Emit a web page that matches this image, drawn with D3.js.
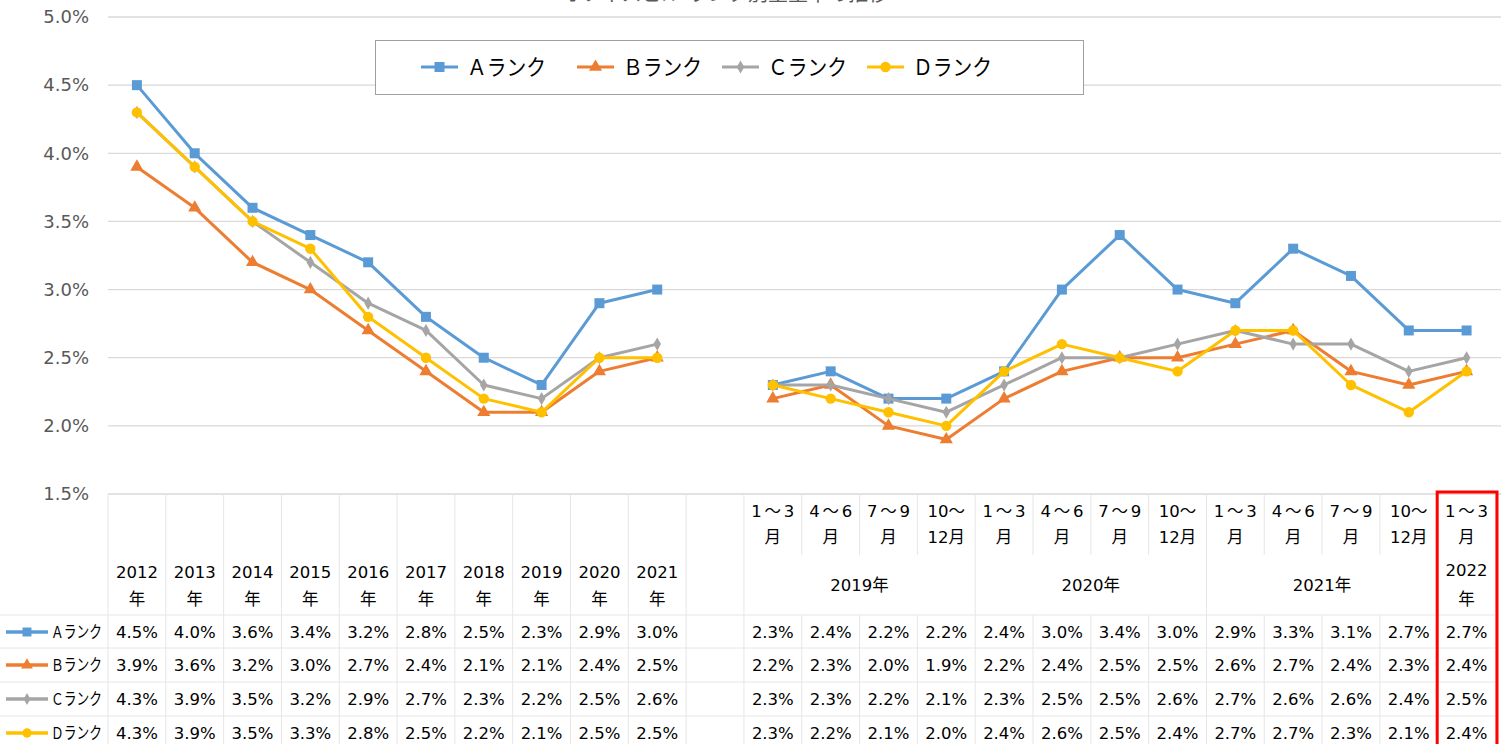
<!DOCTYPE html>
<html>
<head>
<meta charset="utf-8">
<script src="https://cdn.jsdelivr.net/npm/d3@7"></script>
<style>
  body { margin: 0; background: #fff; }
  svg { display: block; font-family: "DejaVu Sans", "Noto Sans CJK JP", sans-serif; }
</style>
</head>
<body>
<svg id="chart" width="1501" height="744"></svg>
<script>
// categories: 10 years, one empty slot, 13 quarters
var yearCats = ["2012", "2013", "2014", "2015", "2016", "2017", "2018", "2019", "2020", "2021"];
var quarterCats = ["1～3|月", "4～6|月", "7～9|月", "10～|12月",
                   "1～3|月", "4～6|月", "7～9|月", "10～|12月",
                   "1～3|月", "4～6|月", "7～9|月", "10～|12月",
                   "1～3|月"];
var quarterGroups = [["2019年", 4], ["2020年", 4], ["2021年", 4], ["2022|年", 1]];
var seriesNames = ["Ａランク", "Ｂランク", "Ｃランク", "Ｄランク"];
var colors = ["#5B9BD5", "#ED7D31", "#A5A5A5", "#FFC000"];
var yTicks = [1.5, 2.0, 2.5, 3.0, 3.5, 4.0, 4.5, 5.0];

// yearly values (%)
var aYear = [4.5, 4.0, 3.6, 3.4, 3.2, 2.8, 2.5, 2.3, 2.9, 3.0];
var bYear = [3.9, 3.6, 3.2, 3.0, 2.7, 2.4, 2.1, 2.1, 2.4, 2.5];
var cYear = [4.3, 3.9, 3.5, 3.2, 2.9, 2.7, 2.3, 2.2, 2.5, 2.6];
var dYear = [4.3, 3.9, 3.5, 3.3, 2.8, 2.5, 2.2, 2.1, 2.5, 2.5];
// quarterly values (%)
var aQuarter = [2.3, 2.4, 2.2, 2.2, 2.4, 3.0, 3.4, 3.0, 2.9, 3.3, 3.1, 2.7, 2.7];
var bQuarter = [2.2, 2.3, 2.0, 1.9, 2.2, 2.4, 2.5, 2.5, 2.6, 2.7, 2.4, 2.3, 2.4];
var cQuarter = [2.3, 2.3, 2.2, 2.1, 2.3, 2.5, 2.5, 2.6, 2.7, 2.6, 2.6, 2.4, 2.5];
var dQuarter = [2.3, 2.2, 2.1, 2.0, 2.4, 2.6, 2.5, 2.4, 2.7, 2.7, 2.3, 2.1, 2.4];

var yearSeries = [aYear, bYear, cYear, dYear];
var quarterSeries = [aQuarter, bQuarter, cQuarter, dQuarter];

var svg = d3.select("#chart");

// slot keys
var keys = yearCats.map(function(d, i) { return "y" + i; })
    .concat(["gap"])
    .concat(quarterCats.map(function(d, i) { return "q" + i; }));

var x = d3.scaleBand().domain(keys).range([108, 1495.5]).padding(0);
var y = d3.scaleLinear().domain([1.5, 5.0]).range([494, 17]);
var bw = x.bandwidth();

// title (cropped by the top edge, as in the source)
svg.append("text")
    .attr("x", 725).attr("y", 1)
    .attr("text-anchor", "middle")
    .style("font-size", "20px")
    .style("fill", "#595959")
    .text("オフィスビル ランク別空室率の推移");

// gridlines
svg.append("g").selectAll("line")
    .data(yTicks)
    .enter().append("line")
    .attr("x1", 108).attr("x2", 1501)
    .attr("y1", function(d) { return y(d); })
    .attr("y2", function(d) { return y(d); })
    .attr("stroke", "#d9d9d9")
    .attr("stroke-width", 1.3);

// y axis labels
var yAxis = d3.axisLeft(y).tickValues(yTicks).tickSize(0).tickPadding(0)
    .tickFormat(function(d) { return d.toFixed(1) + "%"; });
svg.append("g")
    .attr("transform", "translate(89,0)")
    .call(yAxis)
    .call(function(g) { g.select(".domain").remove(); })
    .selectAll("text")
    .style("font-size", "18px")
    .style("fill", "#595959")
    .style("font-family", "'DejaVu Sans', sans-serif");

// table grid
var grid = svg.append("g").attr("stroke", "#e6e6e6").attr("stroke-width", 1);
var rowLines = [615, 648, 682, 716];
rowLines.forEach(function(yy) {
    grid.append("line").attr("x1", 0).attr("x2", 1495.5).attr("y1", yy).attr("y2", yy);
});
// vertical lines: year columns + gap full height
keys.slice(0, 12).forEach(function(k) {
    grid.append("line").attr("x1", x(k)).attr("x2", x(k)).attr("y1", 494).attr("y2", 744);
});
// quarter columns: first header row and data rows only
keys.slice(12).forEach(function(k) {
    grid.append("line").attr("x1", x(k)).attr("x2", x(k)).attr("y1", 494).attr("y2", 555);
    grid.append("line").attr("x1", x(k)).attr("x2", x(k)).attr("y1", 615).attr("y2", 744);
});
// group boundaries across second header row
var gStart = 0;
quarterGroups.forEach(function(g) {
    var k = "q" + (gStart + g[1]);
    var xx = gStart + g[1] < quarterCats.length ? x(k) : 1495.5;
    grid.append("line").attr("x1", xx).attr("x2", xx).attr("y1", 555).attr("y2", 615);
    gStart += g[1];
});
grid.append("line").attr("x1", 1495.5).attr("x2", 1495.5).attr("y1", 494).attr("y2", 744);

var txt = svg.append("g").style("fill", "#000").style("font-size", "16.5px").attr("text-anchor", "middle");

// year headers
yearCats.forEach(function(d, i) {
    var cx = x("y" + i) + bw / 2;
    txt.append("text").attr("x", cx).attr("y", 578).text(d);
    txt.append("text").attr("x", cx).attr("y", 605).text("年");
});
// quarter headers
quarterCats.forEach(function(d, i) {
    var cx = x("q" + i) + bw / 2;
    var p = d.split("|");
    var t1 = txt.append("text").attr("x", cx).attr("y", 517).text(p[0]);
    if (p[0].length === 3 && p[0].indexOf("10") !== 0) {
        t1.attr("textLength", 43).attr("lengthAdjust", "spacing");
    }
    txt.append("text").attr("x", cx).attr("y", 543).text(p[1]);
});
// group headers
gStart = 0;
quarterGroups.forEach(function(g) {
    var x0 = x("q" + gStart);
    var cx = x0 + bw * g[1] / 2;
    var p = g[0].split("|");
    if (p.length === 1) {
        txt.append("text").attr("x", cx).attr("y", 591).text(p[0]);
    } else {
        txt.append("text").attr("x", cx).attr("y", 576).text(p[0]);
        txt.append("text").attr("x", cx).attr("y", 605).text(p[1]);
    }
    gStart += g[1];
});

// marker drawing
var symbols = [d3.symbolSquare, d3.symbolTriangle, d3.symbolDiamond, d3.symbolCircle];
var symSizes = [100, 75, 50, 85];
function marker(sel, i, scale) {
    sel.append("path")
        .attr("d", d3.symbol().type(symbols[i]).size(symSizes[i] * (scale || 1)))
        .attr("fill", colors[i]);
}

// data rows
var rowMid = [632, 665, 699, 733];
seriesNames.forEach(function(name, i) {
    var ym = rowMid[i];
    var leg = svg.append("g");
    leg.append("line").attr("x1", 6).attr("x2", 48).attr("y1", ym).attr("y2", ym)
        .attr("stroke", colors[i]).attr("stroke-width", 3.5);
    marker(leg.append("g").attr("transform", "translate(27," + ym + ")"), i, 0.8);
    svg.append("text").attr("x", 51).attr("y", ym + 6)
        .attr("textLength", 51).attr("lengthAdjust", "spacingAndGlyphs")
        .style("font-size", "16.5px").text(name);
    yearSeries[i].forEach(function(v, j) {
        txt.append("text").attr("x", x("y" + j) + bw / 2).attr("y", ym + 6).text(v.toFixed(1) + "%");
    });
    quarterSeries[i].forEach(function(v, j) {
        txt.append("text").attr("x", x("q" + j) + bw / 2).attr("y", ym + 6).text(v.toFixed(1) + "%");
    });
});

// lines
var line = d3.line()
    .x(function(d) { return x(d.k) + bw / 2; })
    .y(function(d) { return y(d.v); });

var plot = svg.append("g");
[0, 1, 2, 3].forEach(function(i) {
    var yr = yearSeries[i].map(function(v, j) { return { k: "y" + j, v: v }; });
    var qt = quarterSeries[i].map(function(v, j) { return { k: "q" + j, v: v }; });
    [yr, qt].forEach(function(pts) {
        plot.append("path").datum(pts)
            .attr("d", line)
            .attr("fill", "none")
            .attr("stroke", colors[i])
            .attr("stroke-width", 3)
            .attr("stroke-linejoin", "round")
            .attr("stroke-linecap", "round");
        pts.forEach(function(p) {
            marker(plot.append("g").attr("transform", "translate(" + (x(p.k) + bw / 2) + "," + y(p.v) + ")"), i);
        });
    });
});

// legend
var lg = svg.append("g");
lg.append("rect").attr("x", 375.5).attr("y", 40.5).attr("width", 708).attr("height", 54)
    .attr("fill", "#fff").attr("stroke", "#404040").attr("stroke-width", 1).attr("stroke-dasharray", "1,1");
var legX = [421, 577, 722, 867];
seriesNames.forEach(function(name, i) {
    lg.append("line").attr("x1", legX[i]).attr("x2", legX[i] + 37).attr("y1", 67).attr("y2", 67)
        .attr("stroke", colors[i]).attr("stroke-width", 3);
    marker(lg.append("g").attr("transform", "translate(" + (legX[i] + 18.5) + ",67)"), i);
    lg.append("text").attr("x", legX[i] + 46).attr("y", 75)
        .attr("textLength", 79).attr("lengthAdjust", "spacingAndGlyphs")
        .style("font-size", "22px").style("fill", "#000").text(name);
});

// highlight box around the latest quarter
svg.append("rect")
    .attr("x", x("q12") - 0.5).attr("y", 492)
    .attr("width", bw + 2).attr("height", 256)
    .attr("fill", "none").attr("stroke", "#ff0000").attr("stroke-width", 3);
</script>
</body>
</html>
